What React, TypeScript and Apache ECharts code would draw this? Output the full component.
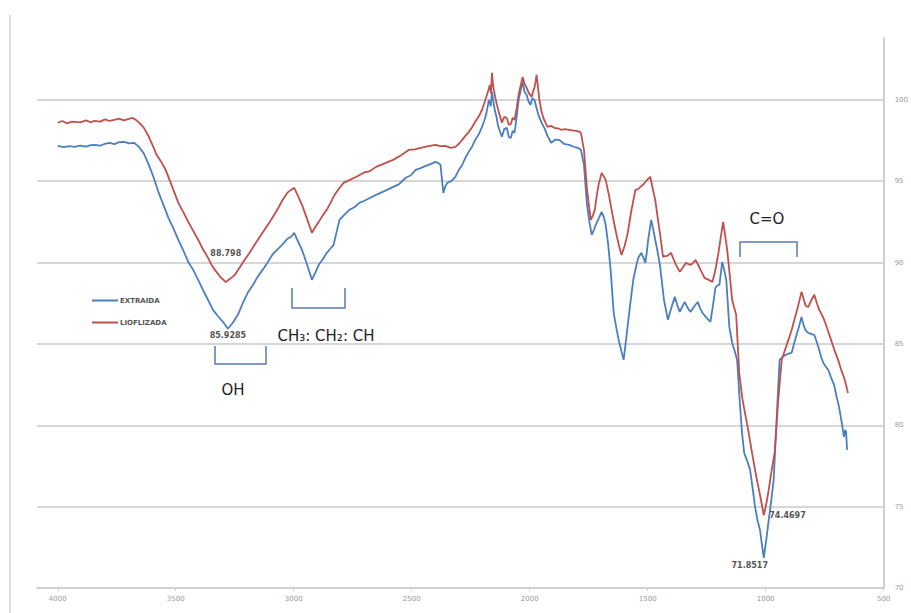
import React, { useEffect, useRef } from "react";
import * as echarts from "echarts";

// FTIR spectra: wavenumber (cm-1) and transmittance (%)
const extraidaWn = [
  4000, 3975, 3950, 3929, 3905, 3880, 3860, 3845, 3820, 3800, 3782, 3760, 3740, 3719, 3698, 3677,
  3656, 3635, 3614, 3593, 3572, 3551, 3531, 3510, 3489, 3468, 3447, 3426, 3405, 3384, 3363, 3342,
  3321, 3300, 3279, 3258, 3237, 3216, 3195, 3174, 3153, 3132, 3112, 3090, 3070, 3049, 3028, 3010,
  2998, 2982, 2965, 2944, 2923, 2908, 2894, 2877, 2860, 2845, 2831, 2818, 2806, 2785, 2764, 2743,
  2722, 2700, 2680, 2651, 2630, 2600, 2579, 2555, 2525, 2505, 2483, 2462, 2441, 2420, 2399, 2385,
  2378, 2366, 2357, 2349, 2332, 2315, 2300, 2286, 2272, 2261, 2245, 2231, 2215, 2202, 2193, 2185,
  2178, 2173, 2165, 2160, 2154, 2148, 2140, 2135, 2127, 2118, 2108, 2097, 2088, 2080, 2072, 2064,
  2055, 2047, 2038, 2030, 2022, 2013, 2005, 1997, 1988, 1980, 1971, 1963, 1950, 1938, 1925, 1909,
  1892, 1875, 1855, 1833, 1810, 1795, 1783, 1770, 1758, 1747, 1737, 1728, 1720, 1708, 1695, 1686,
  1678, 1668, 1657, 1644, 1633, 1623, 1612, 1602, 1592, 1582, 1571, 1561, 1550, 1540, 1527, 1518,
  1510, 1504, 1498, 1485, 1476, 1468, 1457, 1447, 1431, 1414, 1400, 1385, 1375, 1364, 1353, 1343,
  1330, 1318, 1303, 1288, 1278, 1268, 1250, 1234, 1223, 1213, 1204, 1196, 1184, 1175, 1167, 1154,
  1142, 1130, 1121, 1110, 1100, 1091, 1078, 1066, 1055, 1045, 1035, 1024, 1016, 1008, 997, 987,
  976, 966, 953, 941, 928, 915, 903, 890, 880, 869, 858, 848, 840, 832, 826, 819, 806, 794, 783,
  773, 765, 756, 745, 735, 722, 710, 700, 689, 678, 668, 663, 659, 655, 651,
];
const extraidaT = [
  97.17, 97.10, 97.15, 97.11, 97.18, 97.12, 97.22, 97.23, 97.18, 97.30, 97.36, 97.28, 97.40, 97.42, 97.33, 97.36,
  97.11, 96.70, 96.00, 95.20, 94.28, 93.50, 92.75, 92.10, 91.40, 90.75, 90.04, 89.55, 88.94, 88.30, 87.70, 87.09,
  86.70, 86.36, 85.93, 86.30, 86.79, 87.50, 88.14, 88.60, 89.12, 89.55, 89.98, 90.50, 90.80, 91.09, 91.45, 91.60,
  91.83, 91.30, 90.78, 89.90, 88.94, 89.40, 89.86, 90.20, 90.60, 90.85, 91.09, 91.90, 92.62, 92.95, 93.24, 93.40,
  93.67, 93.80, 93.95, 94.16, 94.30, 94.50, 94.65, 94.80, 95.21, 95.35, 95.70, 95.80, 95.94, 96.05, 96.19, 96.10,
  96.00, 94.28, 94.70, 94.90, 95.00, 95.27, 95.70, 96.00, 96.45, 96.74, 97.10, 97.54, 97.90, 98.34, 98.70, 99.08,
  99.60, 100.00, 99.60, 100.49, 99.90, 99.39, 98.90, 98.46, 98.10, 97.73, 98.20, 98.28, 97.70, 97.66, 98.10, 97.97,
  99.00, 100.00, 100.60, 101.11, 100.50, 100.31, 99.90, 99.69, 100.10, 100.00, 99.50, 99.08, 98.60, 98.28, 97.80, 97.36,
  97.55, 97.54, 97.30, 97.23, 97.10, 97.05, 96.93, 96.00, 93.67, 92.50, 91.70, 92.00, 92.32, 92.70, 93.12, 92.80,
  92.32, 91.20, 89.55, 86.91, 86.00, 85.25, 84.60, 84.02, 85.20, 86.48, 87.80, 88.94, 89.70, 90.29, 90.60, 90.30,
  89.98, 90.60, 91.40, 92.62, 92.00, 91.40, 90.60, 89.74, 87.71, 86.48, 87.20, 87.89, 87.40, 86.97, 87.30, 87.58,
  87.20, 86.97, 87.30, 87.58, 87.20, 86.91, 86.60, 86.36, 87.40, 88.45, 88.60, 88.63, 90.04, 89.50, 88.94, 86.05,
  85.07, 84.50, 84.02, 81.50, 79.50, 78.30, 77.80, 77.26, 76.10, 74.99, 74.20, 73.57, 72.70, 71.85, 73.00, 74.19,
  75.40, 76.65, 80.50, 84.02, 84.20, 84.33, 84.40, 84.45, 85.00, 85.56, 86.10, 86.66, 86.20, 85.87, 85.75, 85.68, 85.60,
  85.56, 85.10, 84.63, 84.20, 83.84, 83.60, 83.41, 82.90, 82.48, 81.80, 81.13, 80.20, 79.29, 79.72, 79.60, 78.49,
];

const liofWn = [
  4000, 3980, 3960, 3940, 3929, 3905, 3880, 3860, 3845, 3820, 3800, 3780, 3761, 3740, 3720, 3698,
  3685, 3669, 3652, 3635, 3614, 3598, 3581, 3562, 3543, 3516, 3489, 3468, 3447, 3426, 3405, 3384,
  3363, 3350, 3334, 3310, 3288, 3270, 3250, 3229, 3208, 3187, 3166, 3145, 3124, 3097, 3070, 3049,
  3028, 3013, 2998, 2982, 2965, 2944, 2923, 2908, 2894, 2877, 2860, 2843, 2827, 2808, 2789, 2760,
  2734, 2700, 2680, 2651, 2615, 2579, 2545, 2512, 2487, 2462, 2430, 2399, 2378, 2357, 2336, 2315,
  2300, 2286, 2272, 2261, 2245, 2231, 2215, 2202, 2190, 2181, 2175, 2169, 2164, 2160, 2156, 2152,
  2145, 2139, 2128, 2118, 2108, 2097, 2088, 2080, 2072, 2064, 2055, 2047, 2038, 2030, 2022, 2013,
  2003, 1992, 1986, 1980, 1975, 1971, 1965, 1959, 1950, 1942, 1933, 1925, 1910, 1896, 1880, 1867,
  1850, 1833, 1818, 1804, 1790, 1783, 1770, 1758, 1749, 1741, 1732, 1724, 1716, 1708, 1695, 1686,
  1678, 1665, 1653, 1642, 1632, 1621, 1611, 1598, 1586, 1569, 1552, 1543, 1535, 1527, 1519, 1510,
  1502, 1489, 1478, 1468, 1457, 1447, 1435, 1426, 1418, 1409, 1401, 1390, 1380, 1364, 1351, 1338,
  1327, 1317, 1307, 1297, 1286, 1276, 1259, 1243, 1226, 1217, 1209, 1200, 1192, 1180, 1171, 1163,
  1152, 1142, 1133, 1125, 1112, 1100, 1087, 1074, 1060, 1045, 1035, 1024, 1016, 1008, 997, 987,
  975, 962, 947, 932, 921, 911, 900, 890, 880, 869, 858, 848, 840, 832, 826, 819, 806, 794, 783,
  773, 762, 752, 738, 723, 708, 693, 682, 672, 665, 659, 655, 651,
];
const liofT = [
  98.59, 98.70, 98.55, 98.66, 98.65, 98.62, 98.74, 98.62, 98.71, 98.66, 98.80, 98.70, 98.77, 98.85, 98.74, 98.83,
  98.90, 98.77, 98.55, 98.28, 97.73, 97.20, 96.62, 96.20, 95.70, 94.70, 93.67, 93.10, 92.50, 91.95, 91.40, 90.80,
  90.29, 89.90, 89.55, 89.10, 88.80, 89.00, 89.24, 89.70, 90.17, 90.60, 91.09, 91.55, 92.01, 92.60, 93.24, 93.80,
  94.28, 94.45, 94.59, 94.10, 93.55, 92.70, 91.83, 92.20, 92.50, 92.90, 93.24, 93.70, 94.16, 94.55, 94.90, 95.10,
  95.27, 95.55, 95.60, 95.88, 96.10, 96.31, 96.60, 96.93, 96.95, 97.05, 97.15, 97.23, 97.15, 97.17, 97.05, 97.11,
  97.30, 97.54, 97.80, 97.97, 98.30, 98.65, 99.00, 99.39, 99.90, 100.31, 100.60, 100.92, 100.40, 101.66, 101.00, 100.61,
  100.10, 99.69, 99.10, 98.59, 98.95, 98.89, 98.45, 98.52, 98.90, 98.77, 99.50, 100.31, 100.90, 101.41, 101.00, 100.74,
  100.40, 100.18, 100.50, 100.74, 101.10, 101.54, 100.80, 100.00, 99.30, 98.89, 98.60, 98.34, 98.40, 98.28, 98.25, 98.16,
  98.20, 98.16, 98.12, 98.09, 98.05, 97.97, 96.93, 94.65, 93.50, 92.62, 92.90, 93.24, 94.10, 94.78, 95.51, 95.30,
  95.08, 94.20, 93.24, 92.40, 91.70, 91.00, 90.47, 91.00, 91.70, 93.20, 94.47, 94.50, 94.59, 94.70, 94.78, 94.95,
  95.08, 95.27, 94.50, 93.85, 92.70, 91.70, 90.35, 90.40, 90.41, 90.50, 90.60, 90.20, 89.86, 89.43, 89.70, 89.98,
  89.90, 89.86, 90.00, 90.17, 89.85, 89.55, 89.06, 88.95, 88.81, 89.30, 89.86, 90.60, 91.40, 92.50, 91.60, 90.78,
  89.20, 87.71, 87.20, 86.79, 83.22, 81.75, 80.70, 79.72, 78.50, 77.26, 76.50, 75.72, 75.10, 74.47, 75.20, 76.03,
  77.20, 78.30, 81.50, 84.02, 84.50, 84.94, 85.40, 85.86, 86.40, 86.97, 87.60, 88.20, 87.80, 87.40, 87.30, 87.28, 87.70, 88.02, 87.50,
  87.09, 86.80, 86.48, 85.90, 85.25, 84.60, 84.02, 83.50, 83.10, 82.80, 82.48, 82.20, 81.99,
];

const xTicks = [4000, 3500, 3000, 2500, 2000, 1500, 1000, 500];
const seriesNames = ["EXTRAIDA", "LIOFLIZADA"];
const seriesColors = ["#4a7fc1", "#c0504d"];

// labelled minima: [wavenumber, transmittance]
const extraidaMinOH = [3279, 85.9285];
const extraidaMinCO = [1008, 71.8517];
const liofMinOH = [3288, 88.798];
const liofMinCO = [1008, 74.4697];

const pairs = (xs: number[], ys: number[]) => xs.map((x, i) => [x, ys[i]]);

const valueLabel = {
  fontSize: 8,
  fontWeight: "bold" as const,
  color: "#555",
  fontFamily: "DejaVu Sans",
};

const bracketColor = "#5a7bab";
const noteStyle = { fill: "#222", fontSize: 15, fontFamily: "DejaVu Sans" };

export default function App() {
  const ref = useRef<HTMLDivElement>(null);

  useEffect(() => {
    document.body.style.margin = "0";
    if (!ref.current) return;
    const chart = echarts.init(ref.current, null, { renderer: "svg" });
    chart.setOption({
      animation: false,
      backgroundColor: "#fff",
      grid: { left: 37, right: 18, top: 38, bottom: 25 },
      legend: {
        orient: "vertical",
        left: 87,
        top: 292,
        itemGap: 15,
        itemWidth: 26,
        itemHeight: 2,
        icon: "rect",
        data: seriesNames,
        textStyle: { fontSize: 7, fontWeight: "bold", color: "#555", fontFamily: "DejaVu Sans", padding: [0, 0, 0, -3] },
      },
      xAxis: {
        type: "value",
        min: 500,
        max: 4088,
        inverse: true,
        axisLine: { show: true, lineStyle: { color: "#cfcfcf", width: 2 } },
        axisTick: { show: true, customValues: xTicks, length: 3, lineStyle: { color: "#cfcfcf" } },
        axisLabel: {
          customValues: xTicks,
          fontSize: 7,
          color: "#999",
          margin: 7,
          fontFamily: "DejaVu Sans",
          formatter: (v: number) => String(v),
        },
        splitLine: { show: false },
      },
      yAxis: {
        type: "value",
        position: "right",
        min: 70,
        max: 103.8,
        interval: 5,
        axisLine: { show: true, lineStyle: { color: "#cfcfcf", width: 2 } },
        axisTick: { show: false },
        axisLabel: { fontSize: 7, color: "#999", margin: 11, showMaxLabel: false, fontFamily: "DejaVu Sans" },
        splitLine: { show: true, showMaxLine: false, showMinLine: false, lineStyle: { color: "#d6d6d6", width: 2 } },
      },
      series: [
        {
          name: seriesNames[0],
          type: "line",
          data: pairs(extraidaWn, extraidaT),
          showSymbol: false,
          color: seriesColors[0],
          lineStyle: { width: 1.8, color: seriesColors[0] },
          markPoint: {
            symbol: "circle",
            symbolSize: 1,
            itemStyle: { color: "transparent" },
            label: { show: true, ...valueLabel, formatter: (p: any) => String(p.value) },
            data: [
              { coord: extraidaMinOH, value: extraidaMinOH[1], label: { position: "bottom", distance: 2 } },
              { coord: extraidaMinCO, value: extraidaMinCO[1], label: { position: "bottom", distance: 3, offset: [-14, 0] } },
            ],
          },
        },
        {
          name: seriesNames[1],
          type: "line",
          data: pairs(liofWn, liofT),
          showSymbol: false,
          color: seriesColors[1],
          lineStyle: { width: 1.8, color: seriesColors[1] },
          markPoint: {
            symbol: "circle",
            symbolSize: 1,
            itemStyle: { color: "transparent" },
            label: { show: true, ...valueLabel, formatter: (p: any) => String(p.value) },
            data: [
              { coord: liofMinOH, value: liofMinOH[1], label: { position: "top", distance: 24 } },
              { coord: liofMinCO, value: liofMinCO[1], label: { position: "right", distance: 5 } },
            ],
          },
        },
      ],
      graphic: [
        // chart border on the left
        { type: "line", shape: { x1: 10, y1: 15, x2: 10, y2: 613 }, style: { stroke: "#dcdcdc", lineWidth: 2 } },
        // OH bracket
        {
          type: "polyline",
          shape: { points: [[215, 346], [215, 364], [266, 364], [266, 346]] },
          style: { stroke: bracketColor, lineWidth: 1.5, fill: "none" },
        },
        { type: "text", x: 233, y: 390, style: { ...noteStyle, text: "OH", align: "center", verticalAlign: "middle" } },
        // CH bracket
        {
          type: "polyline",
          shape: { points: [[292, 288], [292, 308], [345, 308], [345, 288]] },
          style: { stroke: bracketColor, lineWidth: 1.5, fill: "none" },
        },
        { type: "text", x: 326, y: 336, style: { ...noteStyle, text: "CH₃: CH₂: CH", align: "center", verticalAlign: "middle" } },
        // C=O bracket
        {
          type: "polyline",
          shape: { points: [[740, 257], [740, 242], [797, 242], [797, 257]] },
          style: { stroke: bracketColor, lineWidth: 1.5, fill: "none" },
        },
        { type: "text", x: 767, y: 219, style: { ...noteStyle, text: "C=O", align: "center", verticalAlign: "middle" } },
      ],
    });
    return () => chart.dispose();
  }, []);

  return <div ref={ref} style={{ width: 911, height: 613 }} />;
}
